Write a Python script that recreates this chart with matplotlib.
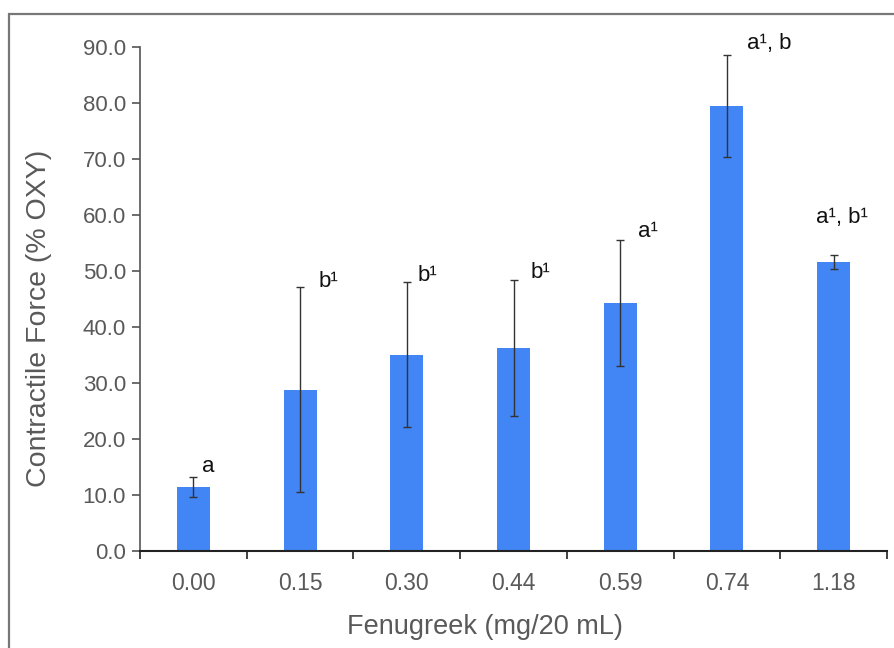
import matplotlib.pyplot as plt
from matplotlib.patches import Rectangle

plt.rcParams["font.family"] = ["Liberation Sans", "DejaVu Sans"]

doses = ["0.00", "0.15", "0.30", "0.44", "0.59", "0.74", "1.18"]
force = [11.4, 28.8, 35.1, 36.3, 44.3, 79.5, 51.7]
force_err = [1.8, 18.3, 13.0, 12.1, 11.3, 9.1, 1.25]
letters = ["a", "b¹", "b¹", "b¹", "a¹", "a¹, b", "a¹, b¹"]

# label offsets in pixels (dx, dy) of the text baseline from the error bar top
label_offsets = [(9, 5), (18, 0), (11, 1), (17, 2), (18, 3), (20, 6), (-18, 32)]

tick_grey = "#595959"

fig = plt.figure(figsize=(8.94, 6.48), dpi=100)
ax = fig.add_axes([0.1566, 0.1497, 0.8356, 0.7773])

x = range(len(doses))
ax.bar(x, force, width=0.31, color="#4285F4", zorder=2)
ax.errorbar(x, force, yerr=force_err, fmt="none", ecolor="#333333",
            elinewidth=1.0, capsize=3, capthick=1.0, zorder=3)

for i, lab in enumerate(letters):
    ax.annotate(lab, xy=(i, force[i] + force_err[i]),
                xytext=label_offsets[i], textcoords="offset pixels",
                ha="left", va="baseline", fontsize=16, color="#111111")

ax.set_xlim(-0.5, len(doses) - 0.5)
ax.set_ylim(0, 90)
ax.set_yticks(range(0, 91, 10))
ax.set_yticklabels([f"{v:.1f}" for v in range(0, 91, 10)])
ax.set_xticks(list(x))
ax.set_xticklabels(doses)
ax.set_xticks([i - 0.5 for i in range(len(doses) + 1)], minor=True)

ax.tick_params(axis="x", which="major", length=0, pad=15, labelsize=16.5,
               labelcolor=tick_grey)
ax.tick_params(axis="x", which="minor", length=6, width=1.2, color="#222222",
               direction="out")
ax.tick_params(axis="y", length=6, width=1.2, color="#555555", pad=4,
               labelsize=16, labelcolor=tick_grey)

for side in ["top", "right"]:
    ax.spines[side].set_visible(False)
ax.spines["left"].set_color("#555555")
ax.spines["left"].set_linewidth(1.2)
ax.spines["bottom"].set_color("#222222")
ax.spines["bottom"].set_linewidth(1.5)

ax.set_xlabel("Fenugreek (mg/20 mL)", fontsize=19.5, color=tick_grey)
ax.set_ylabel("Contractile Force (% OXY)", fontsize=20.5, color=tick_grey)
ax.xaxis.set_label_coords(0.462, -0.125)
ax.yaxis.set_label_coords(-0.118, 0.4626)

# outer frame of the original figure
fig.patches.append(Rectangle((9 / 894, -0.1), 1.2, 1 - 14 / 648 + 0.1,
                             transform=fig.transFigure, fill=False,
                             edgecolor="#777777", linewidth=1.6))

fig.savefig("out.png", dpi=100)
